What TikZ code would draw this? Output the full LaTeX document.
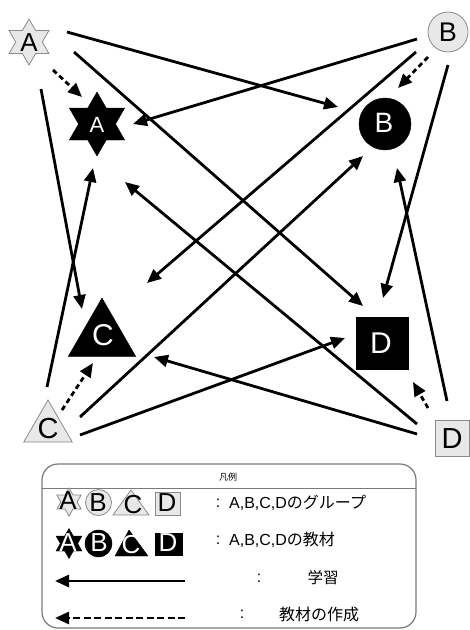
\documentclass[tikz,border=0pt]{standalone}
\usepackage{fontspec}
\setmainfont{Liberation Sans}
\newfontfamily\jp{Noto Sans CJK JP}
\usetikzlibrary{shapes.geometric,arrows.meta,calc}
\definecolor{grpfill}{HTML}{E8E8E8}
\definecolor{grpline}{HTML}{8A8A8A}
\definecolor{boxline}{HTML}{7A7A7A}
\begin{document}
\begin{tikzpicture}[x=1pt,y=-1pt,
  grp/.style={fill=grpfill,draw=grpline,line width=0.8pt,inner sep=0pt},
  mat/.style={fill=black,draw=black,inner sep=0pt},
  starshape/.style={star,star points=6,star point ratio=1.732,minimum size=#1},
  tri/.style={regular polygon,regular polygon sides=3,minimum size=#1},
  roundshape/.style={circle,minimum size=#1},
  sq/.style={rectangle,minimum width=#1,minimum height=#1},
  letter/.style={font=\fontsize{#1}{#1}\selectfont,inner sep=0pt},
  arr/.style={line width=2.8pt,-{Triangle[length=14pt,width=12pt]}},
  darr/.style={arr,dash pattern=on 5pt off 3.5pt},
  larr/.style={line width=2.8pt,-{Triangle[length=14pt,width=12pt]}},
  ldarr/.style={larr,dash pattern=on 7pt off 3.5pt},
  ltext/.style={font=\fontsize{16}{16}\selectfont,inner sep=0pt}
]
\useasboundingbox (0,0) rectangle (470,630);

% group nodes
\node[grp,starshape=46] (Ag) at (29,42) {};
\node[letter=26] (Agt) at (29,43) {A};
\node[grp,roundshape=40] (Bg) at (448,32) {};
\node[letter=27] (Bgt) at (448,32) {B};
\node[grp,tri=56] (Cg) at (48,428) {};
\node[letter=29] (Cgt) at (48,429) {C};
\node[grp,rectangle,minimum width=34,minimum height=36] (Dg) at (452,438) {};
\node[letter=29] (Dgt) at (452,439) {D};

% material nodes
\node[mat,starshape=64] (Am) at (97,124) {};
\node[letter=22,text=white] (Amt) at (97,125) {A};
\node[mat,roundshape=52] (Bm) at (385,124) {};
\node[letter=28,text=white] (Bmt) at (384,123) {B};
\node[mat,tri=78] (Cm) at (102,337) {};
\node[letter=30,text=white] (Cmt) at (103,335) {C};
\node[mat,sq=52] (Dm) at (382,343) {};
\node[letter=30,text=white] (Dmt) at (381,343) {D};

% learning connectors
\draw[arr] ($(Ag)+(38,-10)$) -- ($(Bm)+(-47,-17)$);
\draw[arr] ($(Ag)+(45,10)$) -- ($(Dm)+(-19,-37)$);
\draw[arr] ($(Ag)+(12,47)$) -- ($(Cm)+(-20,-28)$);
\draw[arr] ($(Bg)+(-31,7)$) -- ($(Am)+(36,0)$);
\draw[arr] ($(Bg)+(-32,20)$) -- ($(Cm)+(45,-54)$);
\draw[arr] ($(Bg)+(0,33)$) -- ($(Dm)+(1,-45)$);
\draw[arr] ($(Cg)+(-1,-41)$) -- ($(Am)+(-4,44)$);
\draw[arr] ($(Cg)+(32,-11)$) -- ($(Bm)+(-22,32)$);
\draw[arr] ($(Cg)+(32,7)$) -- ($(Dm)+(-37,-5)$);
\draw[arr] ($(Dg)+(-35,-14)$) -- ($(Am)+(28,58)$);
\draw[arr] ($(Dg)+(-5,-37)$) -- ($(Bm)+(12,44)$);
\draw[arr] ($(Dg)+(-35,-4)$) -- ($(Cm)+(52,20)$);

% material creation connectors
\draw[darr] ($(Ag)+(24,28)$) -- ($(Am)+(-15,-27)$);
\draw[darr] ($(Bg)+(-20,25)$) -- ($(Bm)+(13,-36)$);
\draw[darr] ($(Cg)+(14,-18)$) -- ($(Cm)+(-9,26)$);
\draw[darr] ($(Dg)+(-24,-30)$) -- ($(Dm)+(31,39)$);

% legend
\draw[boxline,line width=1.2pt,rounded corners=16pt] (42,464) rectangle (416,628);
\draw[boxline,line width=1pt] (42,488) -- (416,488);
\node[font=\jp\fontsize{9}{9}\selectfont,inner sep=0pt] (ltitle) at (228,477) {凡例};

\node[grp,starshape=28] (lAg) at (69,502) {};
\node[letter=26] (lAgt) at (68,501) {A};
\node[grp,roundshape=26] (lBg) at (98.5,502.5) {};
\node[letter=26] (lBgt) at (98,503) {B};
\draw[grp] (113,515) -- (131,490) -- (149,515) -- cycle;
\node[letter=26] (lCgt) at (133,505) {C};
\node[grp,rectangle,minimum width=25,minimum height=23] (lDg) at (167.5,503.5) {};
\node[letter=26] (lDgt) at (167,503) {D};

\node[mat,starshape=30] (lAm) at (69,543.5) {};
\node[letter=26,text=white] (lAmt) at (68,543) {A};
\node[mat,roundshape=27] (lBm) at (98.5,543.5) {};
\node[letter=26,text=white] (lBmt) at (99,543) {B};
\draw[mat] (115,556) -- (129,530) -- (148,556) -- cycle;
\node[letter=26,text=white] (lCmt) at (131,545) {C};
\node[mat,rectangle,minimum width=27,minimum height=22] (lDm) at (168.5,544) {};
\node[letter=26,text=white] (lDmt) at (168,543) {D};

\node[ltext] (c1) at (218,503) {:};
\node[ltext,anchor=west] (t1) at (229,503) {A,B,C,D{\jp のグループ}};
\node[ltext] (c2) at (218,540) {:};
\node[ltext,anchor=west] (t2) at (229,540) {A,B,C,D{\jp の教材}};
\node[ltext] (c3) at (259,578) {:};
\node[ltext,font=\jp\fontsize{15.5}{16}\selectfont] (t3) at (323,578) {学習};
\node[ltext] (c4) at (242,614) {:};
\node[ltext,anchor=west,font=\jp\fontsize{16}{16}\selectfont] (t4) at (279,614) {教材の作成};

\coordinate (l3s) at (185,581);
\coordinate (l3e) at (55,581);
\coordinate (l4s) at (185,618);
\coordinate (l4e) at (55,618);
\draw[larr] (l3s) -- (l3e);
\draw[ldarr] (l4s) -- (l4e);
\end{tikzpicture}
\end{document}
